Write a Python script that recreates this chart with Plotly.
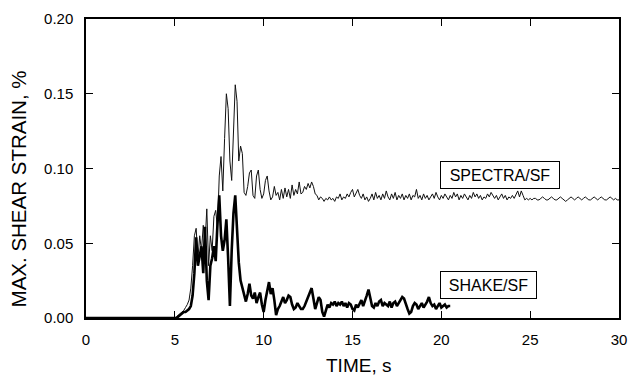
import plotly.graph_objects as go

# Sampling: values below start at 5.0 s with a 0.1 s step; both records are zero from 0 s.
start_time = 5.0
step = 0.1

spectra_sf = [
    0.000, 0.001, 0.002, 0.003, 0.004, 0.005, 0.007, 0.009, 0.012, 0.020,
    0.035, 0.055, 0.060, 0.040, 0.055, 0.045, 0.062, 0.050, 0.073, 0.035,
    0.055, 0.045, 0.068, 0.072, 0.060, 0.095, 0.108, 0.085, 0.120, 0.150,
    0.140, 0.105, 0.092, 0.130, 0.156, 0.145, 0.105, 0.115, 0.110, 0.084,
    0.082, 0.088, 0.097, 0.099, 0.082, 0.080, 0.095, 0.099, 0.086, 0.080,
    0.083, 0.092, 0.095, 0.085, 0.079, 0.081, 0.088, 0.082, 0.084, 0.079,
    0.086, 0.080, 0.087, 0.081, 0.086, 0.080, 0.089, 0.082, 0.086, 0.083,
    0.091, 0.083, 0.084, 0.088, 0.086, 0.090, 0.087, 0.091, 0.088, 0.083,
    0.082, 0.079, 0.081, 0.080, 0.078, 0.080, 0.079, 0.081, 0.079, 0.080,
    0.078, 0.081, 0.080, 0.083, 0.079, 0.081, 0.080, 0.083, 0.081, 0.084,
    0.086, 0.081, 0.084, 0.086, 0.082, 0.080, 0.083, 0.079, 0.081, 0.078,
    0.080, 0.083, 0.079, 0.084, 0.080, 0.082, 0.079, 0.083, 0.080, 0.085,
    0.081, 0.079, 0.083, 0.080, 0.084, 0.079, 0.082, 0.080, 0.083, 0.079,
    0.082, 0.080, 0.083, 0.079, 0.082, 0.081, 0.086, 0.080, 0.082, 0.079,
    0.083, 0.080, 0.082, 0.079, 0.081, 0.083, 0.080, 0.084, 0.081, 0.079,
    0.082, 0.080, 0.083, 0.081, 0.079, 0.082, 0.080, 0.084, 0.081, 0.083,
    0.079, 0.082, 0.080, 0.083, 0.081, 0.079, 0.082, 0.080, 0.084, 0.081,
    0.083, 0.080, 0.082, 0.079, 0.081, 0.080, 0.083, 0.081, 0.084, 0.082,
    0.080, 0.082, 0.079, 0.081, 0.083, 0.080, 0.082, 0.079, 0.081, 0.080,
    0.082, 0.080, 0.083, 0.085, 0.081, 0.085, 0.082, 0.079, 0.080, 0.079,
    0.080, 0.079, 0.080, 0.080, 0.079, 0.079, 0.080, 0.081, 0.080, 0.079,
    0.079, 0.080, 0.081, 0.080, 0.079, 0.079, 0.080, 0.081, 0.080, 0.079,
    0.078, 0.079, 0.080, 0.081, 0.080, 0.079, 0.080, 0.081, 0.080, 0.079,
    0.080, 0.081, 0.080, 0.079, 0.079, 0.080, 0.081, 0.080, 0.079, 0.080,
    0.081, 0.080, 0.079, 0.079, 0.080, 0.081, 0.080, 0.079, 0.080, 0.079,
    0.079,
]

shake_sf = [
    0.000, 0.000, 0.001, 0.002, 0.003, 0.004, 0.004, 0.005, 0.006, 0.008,
    0.015, 0.030, 0.054, 0.035, 0.042, 0.048, 0.030, 0.061, 0.025, 0.012,
    0.035, 0.040, 0.048, 0.038, 0.063, 0.082, 0.055, 0.045, 0.052, 0.066,
    0.040, 0.008, 0.045, 0.070, 0.082, 0.060, 0.037, 0.025, 0.020, 0.014,
    0.011, 0.016, 0.023, 0.015, 0.013, 0.017, 0.010, 0.014, 0.017, 0.009,
    0.004, 0.012, 0.019, 0.024, 0.016, 0.020, 0.012, 0.002, 0.006, 0.008,
    0.011, 0.014, 0.010, 0.012, 0.015, 0.014, 0.009, 0.006, 0.007, 0.010,
    0.008, 0.006, 0.006, 0.008, 0.011, 0.014, 0.016, 0.020, 0.013, 0.006,
    0.010, 0.014, 0.012, 0.004, 0.001, 0.006, 0.009, 0.007, 0.010, 0.009,
    0.011, 0.008, 0.010, 0.009, 0.011, 0.008, 0.010, 0.007, 0.010, 0.009,
    0.006, 0.005, 0.009, 0.007, 0.010, 0.012, 0.008, 0.011, 0.015, 0.019,
    0.012, 0.008, 0.007, 0.010, 0.008, 0.011, 0.012, 0.008, 0.010, 0.009,
    0.008, 0.011, 0.007, 0.010, 0.011, 0.008, 0.010, 0.012, 0.014, 0.013,
    0.009, 0.006, 0.003, 0.004, 0.008, 0.010, 0.009, 0.006, 0.008, 0.010,
    0.007, 0.009, 0.011, 0.014, 0.010, 0.008, 0.009, 0.006, 0.008, 0.010,
    0.007, 0.008, 0.009, 0.007, 0.008, 0.008,
]

x_ticks = [0, 5, 10, 15, 20, 25, 30]
y_ticks = [0.00, 0.05, 0.10, 0.15, 0.20]
y_tick_text = ["0.00", "0.05", "0.10", "0.15", "0.20"]

labels = ["SPECTRA/SF", "SHAKE/SF"]
x_title = "TIME, s"
y_title = "MAX. SHEAR STRAIN, %"


def times(n):
    return [0.0] + [round(start_time + step * i, 2) for i in range(n)]


FONT = "Liberation Sans, Arial, Helvetica, sans-serif"

fig = go.Figure()
fig.add_trace(go.Scatter(
    x=times(len(spectra_sf)), y=[0.0] + spectra_sf, mode="lines",
    line=dict(color="#111111", width=1), name=labels[0], showlegend=False,
))
fig.add_trace(go.Scatter(
    x=times(len(shake_sf)), y=[0.0] + shake_sf, mode="lines",
    line=dict(color="black", width=2.6), name=labels[1], showlegend=False,
))

fig.add_annotation(x=19.92, y=0.0957, xref="x", yref="y", text=labels[0],
                   showarrow=False, xanchor="left", yanchor="middle",
                   width=112, height=20, borderpad=3, bordercolor="black",
                   borderwidth=1, bgcolor="white",
                   font=dict(family=FONT, size=16, color="black"))
fig.add_annotation(x=19.92, y=0.0222, xref="x", yref="y", text=labels[1],
                   showarrow=False, xanchor="left", yanchor="middle",
                   width=89, height=20, borderpad=3, bordercolor="black",
                   borderwidth=1, bgcolor="white",
                   font=dict(family=FONT, size=16, color="black"))

# axis titles
fig.add_annotation(x=0.512, y=0, xref="paper", yref="paper", yshift=-47,
                   text=x_title, showarrow=False, xanchor="center", yanchor="middle",
                   font=dict(family=FONT, size=19, color="black"))
fig.add_annotation(x=0, y=0.43, xref="paper", yref="paper", xshift=-68,
                   text=y_title, textangle=-90, showarrow=False,
                   xanchor="center", yanchor="middle",
                   font=dict(family=FONT, size=20.5, color="black"))

axis_common = dict(showline=True, linecolor="black", linewidth=1.5, mirror="ticks",
                   ticks="inside", ticklen=7, tickwidth=1, tickcolor="black",
                   showgrid=False, zeroline=False, automargin=False,
                   tickfont=dict(family=FONT, size=15, color="black"))

fig.update_xaxes(range=[0, 30], tickvals=x_ticks, ticktext=[str(v) for v in x_ticks],
                 ticklabelstandoff=7, **axis_common)
fig.update_yaxes(range=[0, 0.20], tickvals=y_ticks, ticktext=y_tick_text,
                 ticklabelstandoff=8, **axis_common)

fig.update_layout(width=629, height=381, margin=dict(l=86, r=10, t=19, b=63),
                  paper_bgcolor="white", plot_bgcolor="white",
                  font=dict(family=FONT, color="black"))

fig.write_html("out.html")
